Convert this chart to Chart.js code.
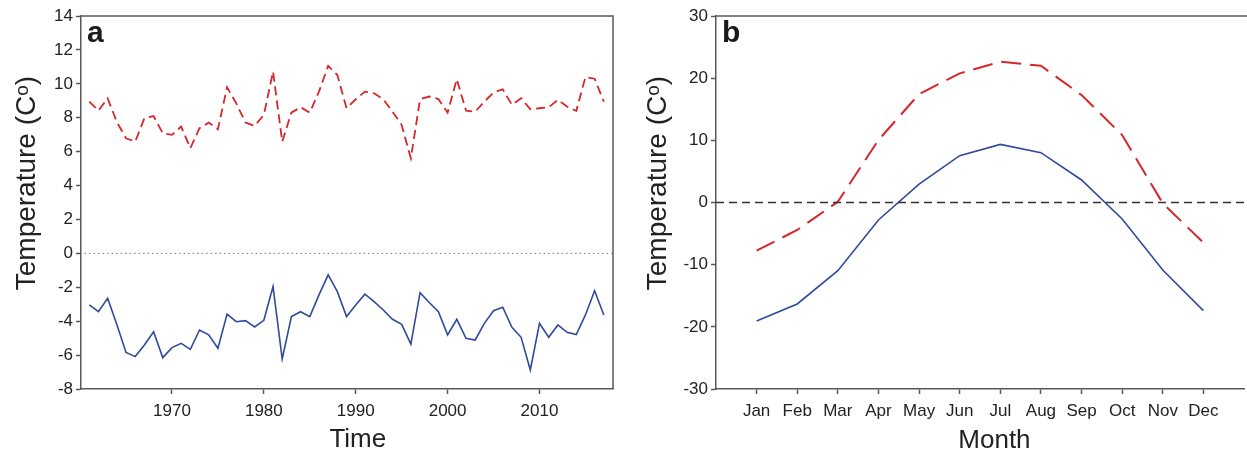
<!DOCTYPE html>
<html>
<head>
<meta charset="utf-8">
<script src="https://cdn.jsdelivr.net/npm/chart.js@4.4.1/dist/chart.umd.min.js"></script>
<style>
  body { margin: 0; background: #fff; }
  #wrap { position: relative; width: 1247px; height: 457px; }
  .box { position: absolute; top: 0; height: 457px; }
</style>
</head>
<body>
<div id="wrap">
  <div class="box" style="left:0;width:620px"><canvas id="chartA"></canvas></div>
  <div class="box" style="left:620px;width:627px"><canvas id="chartB"></canvas></div>
</div>
<script>
// panel a: annual values 1961-2017
const firstYear = 1961
const maxTemp = [
  8.95, 8.42, 9.15, 7.75, 6.79, 6.59, 7.97, 8.1, 7.08, 6.99,
  7.48, 6.2, 7.38, 7.71, 7.32, 9.8, 8.85, 7.71, 7.52, 8.17,
  10.72, 6.59, 8.3, 8.62, 8.3, 9.54, 11.06, 10.52, 8.56, 9.09,
  9.54, 9.44, 9.09, 8.36, 7.57, 5.61, 9.09, 9.25, 9.1, 8.3,
  10.27, 8.42, 8.36, 8.95, 9.48, 9.68, 8.76, 9.15, 8.5, 8.56,
  8.62, 9.05, 8.66, 8.4, 10.4, 10.3, 8.95
]
const minTemp = [
  -3.04, -3.44, -2.65, -4.2, -5.84, -6.09, -5.4, -4.62, -6.15, -5.56,
  -5.31, -5.66, -4.52, -4.81, -5.6, -3.58, -4.03, -3.97, -4.34, -3.95,
  -1.96, -6.23, -3.73, -3.44, -3.73, -2.45, -1.27, -2.26, -3.73, -3.04,
  -2.41, -2.85, -3.34, -3.89, -4.19, -5.35, -2.32, -2.9, -3.44, -4.81,
  -3.89, -5.01, -5.11, -4.13, -3.38, -3.18, -4.36, -4.95, -6.88, -4.13,
  -4.95, -4.22, -4.66, -4.79, -3.63, -2.2, -3.63
]
const yearTicks = [1970, 1980, 1990, 2000, 2010]

// panel b: monthly means
const months = ['Jan', 'Feb', 'Mar', 'Apr', 'May', 'Jun', 'Jul', 'Aug', 'Sep', 'Oct', 'Nov', 'Dec']
const monthMax = [-7.75, -4.42, 0.13, 10.05, 17.44, 20.77, 22.64, 22.0, 17.28, 10.85, -0.13, -6.46]
const monthMin = [-19.05, -16.32, -10.96, -2.81, 2.97, 7.53, 9.35, 8.01, 3.62, -2.65, -10.85, -17.39]

const red = 'rgb(214,38,44)'
const blue = 'rgb(48,74,156)'
const axisColor = '#585858'
const textColor = '#222'
const fontName = '"Liberation Sans", Arial, sans-serif'

const years = maxTemp.map((v, i) => firstYear + i)

// draws extra frame sides and the panel letter
const framePlugin = {
  id: 'frame',
  afterDraw(chart, args, opts) {
    const ctx = chart.ctx
    const a = chart.chartArea
    ctx.save()
    ctx.strokeStyle = axisColor
    ctx.lineWidth = 1.5
    ctx.beginPath()
    ctx.moveTo(a.left, a.top)
    ctx.lineTo(opts.full ? a.right : chart.width, a.top)
    if (opts.full) {
      ctx.lineTo(a.right, a.bottom)
    }
    ctx.stroke()
    ctx.fillStyle = '#1a1a1a'
    ctx.font = 'bold 30px ' + fontName
    ctx.textBaseline = 'alphabetic'
    ctx.fillText(opts.letter, a.left + 6, a.top + 26)
    ctx.restore()
  }
}

// leading spaces nudge the title off the axis centre like in the original
function yAxis(min, max, step, width, titlePad) {
  return {
    min: min,
    max: max,
    afterFit: (scale) => { scale.width = width },
    ticks: { stepSize: step, color: textColor, padding: 3, font: { family: fontName, size: 17 } },
    grid: { drawOnChartArea: false, drawTicks: true, tickLength: 5, tickColor: axisColor, tickWidth: 1.5 },
    border: { display: true, color: axisColor, width: 1.5 },
    title: { display: true, text: '     Temperature (Cᵒ)', color: textColor, padding: titlePad, font: { family: fontName, size: 28 } }
  }
}

function xAxis(min, max, tickValues, label, titleText, titlePad) {
  return {
    type: 'linear',
    min: min,
    max: max,
    afterFit: (scale) => { scale.height = 68 },
    afterBuildTicks: (scale) => { scale.ticks = tickValues.map(v => ({ value: v })) },
    ticks: { color: textColor, padding: 7, maxRotation: 0, autoSkip: false, font: { family: fontName, size: 17 }, callback: label },
    grid: { drawOnChartArea: false, drawTicks: true, tickLength: 5, tickColor: axisColor, tickWidth: 1.5 },
    border: { display: true, color: axisColor, width: 1.5 },
    title: { display: true, text: titleText, color: textColor, padding: titlePad, font: { family: fontName, size: 26 } }
  }
}

new Chart(document.getElementById('chartA'), {
  type: 'line',
  data: {
    datasets: [
      {
        data: [{ x: 1960, y: 0 }, { x: 2018, y: 0 }],
        borderColor: '#777', borderWidth: 1, borderDash: [1.5, 3], pointRadius: 0
      },
      {
        data: years.map((y, i) => ({ x: y, y: maxTemp[i] })),
        borderColor: red, borderWidth: 1.8, borderDash: [9, 5], pointRadius: 0, tension: 0
      },
      {
        data: years.map((y, i) => ({ x: y, y: minTemp[i] })),
        borderColor: blue, borderWidth: 1.6, pointRadius: 0, tension: 0
      }
    ]
  },
  options: {
    responsive: true,
    maintainAspectRatio: false,
    animation: false,
    layout: { padding: { top: 16, right: 7, bottom: 0, left: 0 } },
    plugins: { legend: { display: false }, tooltip: { enabled: false }, frame: { letter: 'a', full: true } },
    scales: {
      x: xAxis(1960.1, 2018, yearTicks, (v) => String(v), '   Time', 2),
      y: yAxis(-8, 14, 2, 81, 10)
    }
  },
  plugins: [framePlugin]
})

new Chart(document.getElementById('chartB'), {
  type: 'line',
  data: {
    datasets: [
      {
        data: [{ x: 0, y: 0 }, { x: 13, y: 0 }],
        borderColor: '#333', borderWidth: 1.5, borderDash: [8, 5], pointRadius: 0
      },
      {
        data: months.map((m, i) => ({ x: i + 1, y: monthMax[i] })),
        borderColor: red, borderWidth: 2, borderDash: [20, 9], pointRadius: 0, tension: 0
      },
      {
        data: months.map((m, i) => ({ x: i + 1, y: monthMin[i] })),
        borderColor: blue, borderWidth: 1.6, pointRadius: 0, tension: 0
      }
    ]
  },
  options: {
    responsive: true,
    maintainAspectRatio: false,
    animation: false,
    layout: { padding: { top: 16, right: 3, bottom: 0, left: 0 } },
    plugins: { legend: { display: false }, tooltip: { enabled: false }, frame: { letter: 'b', full: false } },
    scales: {
      x: xAxis(0, 13, months.map((m, i) => i + 1), (v) => months[v - 1], '    Month', 1),
      y: yAxis(-30, 30, 10, 96, 21)
    }
  },
  plugins: [framePlugin]
})
</script>
</body>
</html>
